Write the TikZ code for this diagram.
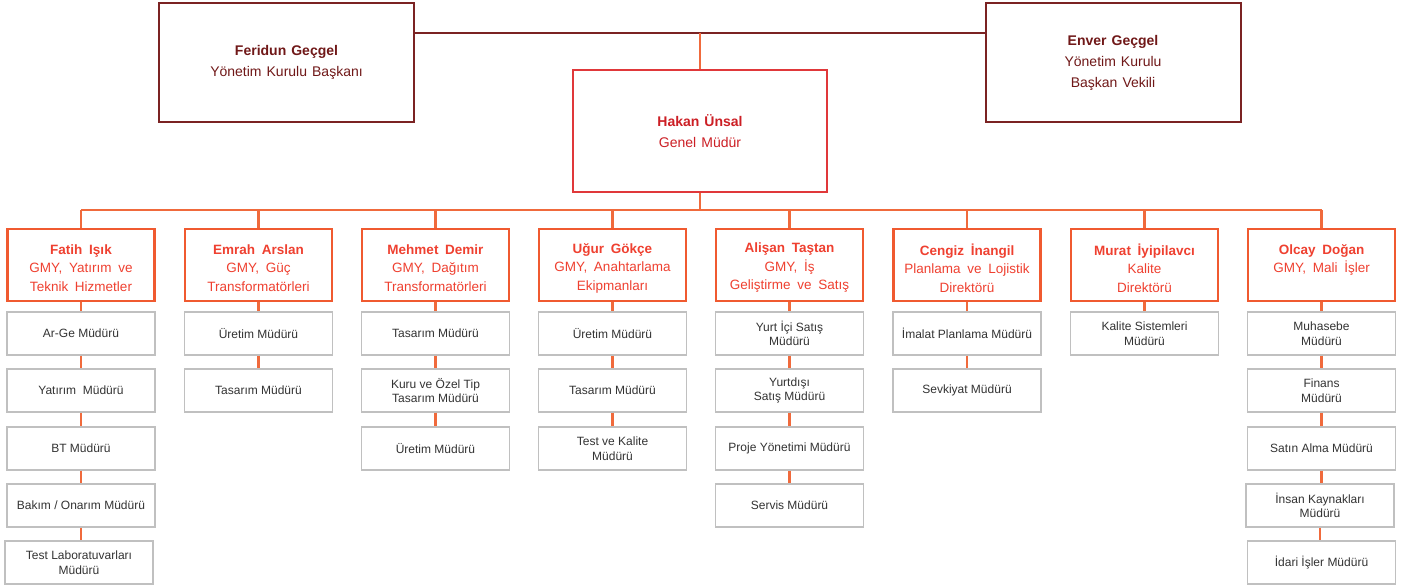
\documentclass[tikz,border=0pt]{standalone}
\usepackage{fontspec}
\setmainfont{Liberation Sans}
\definecolor{topred}{HTML}{7B2323}
\definecolor{toptext}{HTML}{701818}
\definecolor{gmred}{HTML}{E0383A}
\definecolor{gmtext}{HTML}{CC1F25}
\definecolor{lvred}{HTML}{F05A30}
\definecolor{lvtext}{HTML}{EF4030}
\definecolor{conn}{HTML}{F06A3C}
\definecolor{subgray}{HTML}{C0C0C0}
\definecolor{subtext}{HTML}{333333}
\newcommand{\topfnt}{\fontsize{14}{21}\selectfont\spaceskip 0.36em\relax}
\newcommand{\lvfnt}{\fontsize{13.5}{18.5}\selectfont\spaceskip 0.5em\relax}
\newcommand{\subfnt}{\fontsize{12}{14.5}\selectfont}
\tikzset{
  topbox/.style={draw=topred, line width=2pt, minimum width=255pt, minimum height=119pt, inner sep=0pt, align=center, text=toptext, font=\topfnt},
  gmbox/.style={draw=gmred, line width=1.8pt, minimum width=254pt, minimum height=122pt, inner sep=0pt, align=center, text=gmtext, font=\topfnt},
  lvbox/.style={draw=lvred, line width=2.2pt, minimum width=147pt, minimum height=72pt, inner sep=0pt},
  lvtxt/.style={inner sep=0pt, align=center, text=lvtext, font=\lvfnt},
  subbox/.style={draw=subgray, line width=1.4pt, fill=white, minimum width=148pt, minimum height=43pt, inner sep=0pt, align=center, text=subtext, font=\subfnt},
  topline/.style={draw=topred, line width=2.2pt},
  conline/.style={draw=conn, line width=2.2pt},
}
\begin{document}
\begin{tikzpicture}[x=1pt,y=-1pt]
\useasboundingbox (0,0) rectangle (1405,584);
\fill[white] (0,0) rectangle (1405,584);
% top level
\node[topbox] (feridun) at (286.5,62.5) {\textbf{Feridun Geçgel}\\Yönetim Kurulu Başkanı};
\node[topbox] (enver) at (1113,62.5) {\textbf{Enver Geçgel}\\Yönetim Kurulu\\Başkan Vekili};
\node[gmbox] (hakan) at (700,131) {\textbf{Hakan Ünsal}\\Genel Müdür};
\coordinate (topbus) at (700,33);
\coordinate (bus) at (700,210);
\draw[topline] (feridun.east |- topbus) -- (enver.west |- topbus);
\draw[conline] (topbus) -- (hakan.north);
\draw[conline] (hakan.south) -- (bus);
% level 2 boxes
\node[lvbox] (fatih) at (81,265) {};
\node[lvbox] (emrah) at (258.5,265) {};
\node[lvbox] (mehmet) at (435.5,265) {};
\node[lvbox] (ugur) at (612.5,265) {};
\node[lvbox] (alisan) at (789.5,265) {};
\node[lvbox] (cengiz) at (967,265) {};
\node[lvbox] (murat) at (1144.5,265) {};
\node[lvbox] (olcay) at (1321.5,265) {};
\node[lvtxt] (fatihT) at ([yshift=-3pt]fatih.center) {\textbf{Fatih Işık}\\GMY, Yatırım ve\\Teknik Hizmetler};
\node[lvtxt] (emrahT) at ([yshift=-3pt]emrah.center) {\textbf{Emrah Arslan}\\GMY, Güç\\Transformatörleri};
\node[lvtxt] (mehmetT) at ([yshift=-3pt]mehmet.center) {\textbf{Mehmet Demir}\\GMY, Dağıtım\\Transformatörleri};
\node[lvtxt] (ugurT) at ([yshift=-3pt]ugur.center) {\textbf{Uğur Gökçe}\\GMY, Anahtarlama\\Ekipmanları};
\node[lvtxt] (alisanT) at ([yshift=-3pt]alisan.center) {\textbf{Alişan Taştan}\\GMY, İş\\Geliştirme ve Satış};
\node[lvtxt] (cengizT) at ([yshift=-3pt]cengiz.center) {\textbf{Cengiz İnangil}\\Planlama ve Lojistik\\Direktörü};
\node[lvtxt] (muratT) at ([yshift=-3pt]murat.center) {\textbf{Murat İyipilavcı}\\Kalite\\Direktörü};
\node[lvtxt] (olcayT) at ([yshift=-3pt]olcay.center) {\textbf{Olcay Doğan}\\GMY, Mali İşler\\\mbox{}};
\draw[conline] (fatih.north |- bus) -- (olcay.north |- bus);
\foreach \n in {fatih,emrah,mehmet,ugur,alisan,cengiz,murat,olcay}
  \draw[conline] (\n.north |- bus) -- (\n.north);
% level 3
\node[subbox] (f1) at (81,333.5) {Ar-Ge Müdürü};
\node[subbox] (f2) at (81,390.5) {Yatırım\ \ Müdürü};
\node[subbox] (f3) at (81,448.5) {BT Müdürü};
\node[subbox] (f4) at (81,505.5) {Bakım / Onarım Müdürü};
\node[subbox] (f5) at (79,562.5) {Test Laboratuvarları\\Müdürü};
\node[subbox] (e1) at (258.5,333.5) {Üretim Müdürü};
\node[subbox] (e2) at (258.5,390.5) {Tasarım Müdürü};
\node[subbox] (m1) at (435.5,333.5) {Tasarım Müdürü};
\node[subbox] (m2) at (435.5,390.5) {Kuru ve Özel Tip\\Tasarım Müdürü};
\node[subbox] (m3) at (435.5,448.5) {Üretim Müdürü};
\node[subbox] (u1) at (612.5,333.5) {Üretim Müdürü};
\node[subbox] (u2) at (612.5,390.5) {Tasarım Müdürü};
\node[subbox] (u3) at (612.5,448.5) {Test ve Kalite\\Müdürü};
\node[subbox] (a1) at (789.5,333.5) {Yurt İçi Satış\\Müdürü};
\node[subbox] (a2) at (789.5,390.5) {Yurtdışı\\Satış Müdürü};
\node[subbox] (a3) at (789.5,448.5) {Proje Yönetimi Müdürü};
\node[subbox] (a4) at (789.5,505.5) {Servis Müdürü};
\node[subbox] (c1) at (967,333.5) {İmalat Planlama Müdürü};
\node[subbox] (c2) at (967,390.5) {Sevkiyat Müdürü};
\node[subbox] (k1) at (1144.5,333.5) {Kalite Sistemleri\\Müdürü};
\node[subbox] (o1) at (1321.5,333.5) {Muhasebe\\Müdürü};
\node[subbox] (o2) at (1321.5,390.5) {Finans\\Müdürü};
\node[subbox] (o3) at (1321.5,448.5) {Satın Alma Müdürü};
\node[subbox] (o4) at (1320,505.5) {İnsan Kaynakları\\Müdürü};
\node[subbox] (o5) at (1321.5,562.5) {İdari İşler Müdürü};
% level 3 connectors
\foreach \a/\b in {fatih/f1,f1/f2,f2/f3,f3/f4,f4/f5,emrah/e1,e1/e2,mehmet/m1,m1/m2,m2/m3,ugur/u1,u1/u2,u2/u3,alisan/a1,a1/a2,a2/a3,a3/a4,cengiz/c1,c1/c2,murat/k1,olcay/o1,o1/o2,o2/o3,o3/o4,o4/o5}
  \draw[conline] (\a.south) -- (\a.south |- \b.north);
\end{tikzpicture}
\end{document}
